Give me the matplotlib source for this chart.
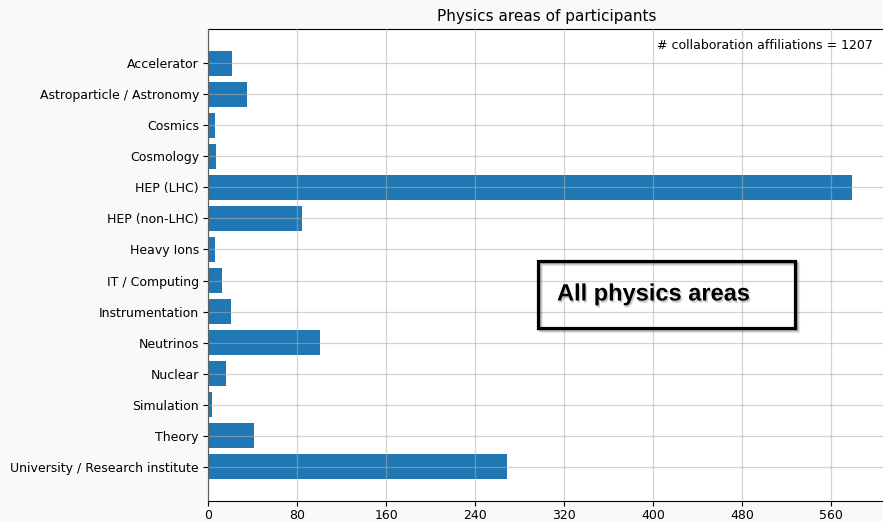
import matplotlib.pyplot as plt
from matplotlib.patches import Rectangle
from matplotlib.ticker import MultipleLocator
import matplotlib.patheffects as pe

areas = ['Accelerator', 'Astroparticle / Astronomy', 'Cosmics', 'Cosmology',
         'HEP (LHC)', 'HEP (non-LHC)', 'Heavy Ions', 'IT / Computing',
         'Instrumentation', 'Neutrinos', 'Nuclear', 'Simulation', 'Theory',
         'University / Research institute']
counts = [22, 35, 6, 7, 579, 84, 6, 13, 21, 101, 16, 4, 41, 269]
total = 1207

fig = plt.figure(figsize=(8.83, 5.22), dpi=100, facecolor='#f9f9f9')
ax = fig.add_axes([208 / 883, 1 - 501 / 522, 1 - 208 / 883 + 0.002, 472 / 522])

ax.barh(range(len(areas)), counts, height=0.8, color='#1f77b4')
ax.set_yticks(range(len(areas)))
ax.set_yticklabels(areas, fontsize=9)
ax.set_ylim(len(areas) - 1 + 1.1, -1.1)
ax.set_xlim(0, 608)
ax.xaxis.set_major_locator(MultipleLocator(80))
ax.tick_params(axis='x', labelsize=9, pad=2.5)
ax.tick_params(axis='y', pad=3)
ax.set_axisbelow(False)
ax.grid(True, color='#b0b0b0', alpha=0.55, linewidth=0.9)
ax.set_title('Physics areas of participants', fontsize=11)
ax.text(0.983, 0.965, '# collaboration affiliations = %d' % total,
        transform=ax.transAxes, ha='right', va='center', fontsize=9)

# overlay label box with a soft shadow
x0, y0, w, h = 538 / 883, 1 - 328 / 522, 257 / 883, 67 / 522
for off, a in [(3, 0.08), (2, 0.12), (1, 0.18)]:
    fig.patches.append(Rectangle((x0 + off / 883, y0 - off / 522), w, h,
                                 transform=fig.transFigure, fill=False,
                                 edgecolor='black', alpha=a, linewidth=2.3,
                                 zorder=9))
fig.patches.append(Rectangle((x0, y0), w, h, transform=fig.transFigure,
                             fill=False, edgecolor='black', linewidth=2.3,
                             zorder=10))
fig.text(557 / 883, 1 - 294 / 522, 'All physics areas', ha='left', va='center',
         fontsize=17, fontweight='bold', family='Liberation Sans', zorder=11,
         path_effects=[pe.withSimplePatchShadow(offset=(1, -1.5), alpha=0.2)])

fig.savefig('out.png', dpi=100, facecolor=fig.get_facecolor())
